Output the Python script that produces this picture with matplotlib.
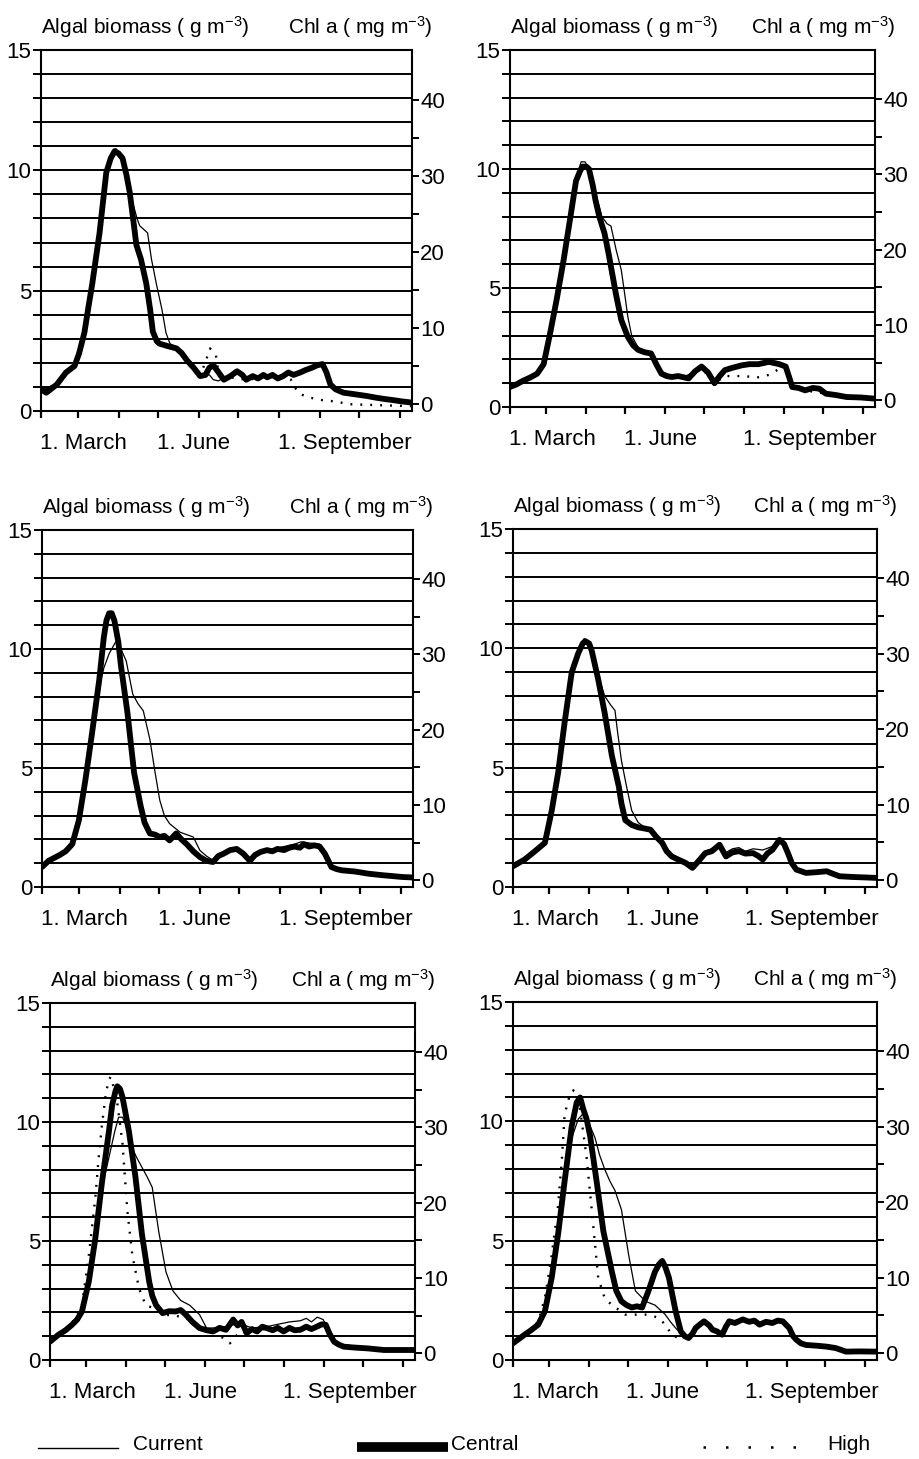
import matplotlib
matplotlib.use("Agg")
import matplotlib.pyplot as plt
from matplotlib.lines import Line2D
from matplotlib.ticker import MultipleLocator

plt.rcParams["font.family"] = ["Liberation Sans", "DejaVu Sans"]
plt.rcParams["mathtext.fontset"] = "custom"
plt.rcParams["mathtext.rm"] = "Liberation Sans"
plt.rcParams["mathtext.it"] = "Liberation Sans"

# x axis: day of year, 1 Feb .. mid Nov
MONTH_STARTS = [32, 60, 91, 121, 152, 182, 213, 244, 274, 305]
LABEL_DAYS = [32, 121, 213]
LABELS = ["1. March", "1. June", "1. September"]

# (day of year, algal biomass g m-3)
P1_CURRENT = [(32, 0.85), (44, 1.1), (51, 1.6), (57.5, 1.9), (65, 3.3), (71, 5.3), (76.5, 7.4), (81.6, 9.9),
              (86, 10.6), (89, 10.9), (93, 10.5), (97, 9.6), (101, 8.8), (105, 8.0), (107, 7.7), (113, 7.4),
              (116, 6.3), (120, 5.2), (124, 4.2), (127, 3.25), (130, 2.8), (135, 2.65), (143, 2.2), (148, 1.8),
              (153, 1.5), (160, 1.5), (163, 1.3), (167, 1.25), (171, 1.4), (181, 1.6), (188, 1.35), (197, 1.4),
              (204, 1.45), (212, 1.4), (220, 1.55), (229, 1.6), (238, 1.75), (246, 1.9), (252, 1.1), (262, 0.75),
              (280, 0.62), (293, 0.5), (314, 0.35)]
P1_CENTRAL = [(32, 0.9), (36, 0.76), (44, 1.1), (51, 1.6), (57.5, 1.87), (61, 2.4), (65, 3.26), (68, 4.3),
              (71, 5.3), (76.5, 7.4), (81.6, 9.9), (85, 10.5), (88, 10.8), (91, 10.7), (94, 10.5), (97, 9.8),
              (99.4, 9.1), (102, 8.0), (104.5, 6.9), (108, 6.3), (112, 5.3), (115, 4.2), (117, 3.3), (120, 2.9),
              (122, 2.8), (128, 2.7), (135, 2.6), (139, 2.4), (143, 2.1), (148, 1.8), (153, 1.45), (157, 1.5),
              (160, 1.8), (163, 1.9), (167, 1.6), (171, 1.3), (176, 1.45), (181, 1.65), (185, 1.5), (188, 1.3),
              (193, 1.45), (197, 1.35), (201, 1.5), (204, 1.4), (208, 1.5), (212, 1.35), (216, 1.45), (220, 1.6),
              (224, 1.5), (229, 1.6), (233, 1.7), (238, 1.8), (242, 1.9), (246, 1.95), (249, 1.6), (252, 1.1),
              (256, 0.9), (262, 0.76), (270, 0.7), (280, 0.62), (287, 0.55), (293, 0.5), (300, 0.45), (306, 0.4),
              (314, 0.35)]
P1_HIGH = [(32, 0.9), (44, 1.1), (51, 1.6), (57.5, 1.87), (65, 3.26), (71, 5.3), (76.5, 7.4), (81.6, 9.9),
           (88, 10.8), (94, 10.5), (99.4, 9.1), (104.5, 6.9), (112, 5.3), (117, 3.3), (122, 2.8), (135, 2.6),
           (143, 2.1), (153, 1.45), (158, 2.2), (160.5, 2.6), (165, 2.3), (168, 1.2), (176, 1.4), (188, 1.3),
           (204, 1.4), (216, 1.45), (222, 1.3), (226, 0.9), (229, 0.7), (237, 0.55), (246, 0.45), (255, 0.4),
           (267, 0.28), (290, 0.24), (314, 0.2)]

P2_CURRENT = [(32, 0.84), (42, 1.1), (53, 1.4), (58, 1.8), (63, 3.1), (68, 4.5), (73.5, 6.2), (79, 8.1),
              (83, 9.6), (87, 10.3), (90, 10.3), (94, 9.9), (98, 9.0), (103, 8.0), (107, 7.7), (110, 7.6),
              (114, 6.6), (118, 5.75), (121, 4.6), (123, 3.8), (126, 3.0), (131, 2.5), (136, 2.3), (141, 2.2),
              (145, 1.9), (149, 1.5), (157, 1.3), (166, 1.25), (175, 1.5), (180, 1.65), (190, 1.05), (198, 1.5),
              (211, 1.7), (224, 1.75), (232, 1.8), (240, 1.75), (245, 1.65), (250, 0.84), (260, 0.7),
              (271, 0.75), (276, 0.56), (292, 0.42), (314, 0.35)]
P2_CENTRAL = [(32, 0.84), (37, 0.95), (42, 1.1), (48, 1.25), (53, 1.4), (58, 1.8), (63, 3.1), (68, 4.5),
              (73.5, 6.2), (79, 8.1), (83, 9.5), (86, 9.9), (88, 10.1), (91, 10.1), (93, 10.0), (96, 9.3),
              (98, 8.7), (101, 8.0), (105, 7.3), (108, 6.5), (111, 5.6), (114, 4.7), (118, 3.65), (123, 2.95),
              (127, 2.6), (131, 2.4), (136, 2.3), (141, 2.25), (145, 1.8), (149, 1.4), (153, 1.3), (157, 1.26),
              (162, 1.3), (166, 1.25), (170, 1.2), (175, 1.5), (180, 1.7), (185, 1.45), (190, 1.0), (194, 1.3),
              (198, 1.55), (204, 1.65), (211, 1.75), (217, 1.8), (224, 1.8), (228, 1.85), (232, 1.9),
              (236, 1.85), (240, 1.8), (245, 1.7), (248, 1.2), (250, 0.84), (255, 0.8), (260, 0.7), (266, 0.8),
              (271, 0.77), (276, 0.56), (284, 0.5), (292, 0.42), (303, 0.4), (314, 0.35)]
P2_HIGH = [(32, 0.84), (42, 1.1), (53, 1.4), (58, 1.8), (63, 3.1), (68, 4.5), (73.5, 6.2), (79, 8.1), (83, 9.5),
           (88, 10.1), (93, 10.0), (98, 8.6), (105, 7.0), (110, 5.6), (114, 4.6), (118, 3.6), (123, 2.9),
           (131, 2.4), (141, 2.2), (149, 1.4), (157, 1.25), (170, 1.2), (180, 1.65), (190, 1.0), (198, 1.3),
           (211, 1.3), (224, 1.25), (232, 1.35), (240, 1.6), (245, 1.65), (250, 0.84), (260, 0.7), (276, 0.56),
           (292, 0.42), (314, 0.35)]

P3_CURRENT = [(32, 0.84), (45, 1.33), (55, 1.8), (60, 2.8), (65, 4.5), (70, 6.4), (75.5, 8.4), (79, 9.2),
              (83, 9.8), (86, 10.1), (88, 10.3), (92, 10.0), (96, 9.5), (101, 8.1), (105, 7.7), (109, 7.4),
              (114, 6.2), (118, 4.8), (121.5, 3.65), (125, 3.0), (129, 2.66), (137, 2.3), (142, 2.2), (147, 2.1),
              (152, 1.54), (157, 1.3), (162, 1.12), (166, 1.3), (170, 1.4), (180, 1.6), (190, 1.15), (198, 1.5),
              (207, 1.6), (216, 1.7), (224, 1.8), (229, 1.9), (235, 1.85), (243, 1.8), (247, 1.4), (252, 0.84),
              (260, 0.7), (280, 0.56), (300, 0.45), (314, 0.4)]
P3_CENTRAL = [(32, 0.84), (37, 1.1), (45, 1.33), (50, 1.5), (55, 1.8), (60, 2.8), (65, 4.5), (70, 6.45),
              (75.5, 8.7), (79, 10.5), (81, 11.2), (83, 11.5), (85, 11.5), (87, 11.2), (90, 10.3), (92, 9.3),
              (97, 7.3), (102, 4.8), (107, 3.4), (110, 2.7), (114, 2.25), (118, 2.2), (121.5, 2.1), (125, 2.15),
              (129, 1.96), (134, 2.25), (138, 2.0), (142, 1.8), (147, 1.5), (152, 1.26), (157, 1.1), (162, 1.05),
              (166, 1.3), (170, 1.4), (175, 1.55), (180, 1.6), (185, 1.4), (190, 1.1), (194, 1.35), (198, 1.47),
              (203, 1.55), (207, 1.5), (211, 1.6), (216, 1.55), (220, 1.65), (224, 1.7), (228, 1.65), (231, 1.8),
              (235, 1.7), (239, 1.75), (243, 1.7), (247, 1.4), (252, 0.84), (256, 0.75), (260, 0.7), (270, 0.65),
              (280, 0.56), (290, 0.5), (300, 0.45), (306, 0.42), (314, 0.4)]
P3_HIGH = [(32, 0.84), (45, 1.33), (55, 1.8), (60, 2.8), (65, 4.5), (70, 6.45), (75.5, 8.7), (79, 10.5),
           (83, 11.5), (87, 11.2), (92, 9.3), (97, 7.3), (102, 4.8), (107, 3.4), (114, 2.25), (121.5, 2.1),
           (129, 1.96), (134, 2.2), (142, 1.8), (152, 1.26), (162, 1.05), (170, 1.4), (180, 1.6), (190, 1.1),
           (198, 1.45), (211, 1.6), (224, 1.65), (231, 1.75), (243, 1.7), (252, 0.84), (260, 0.7), (280, 0.56),
           (300, 0.45), (314, 0.4)]

P4_CURRENT = [(32, 0.87), (41, 1.15), (49, 1.5), (56.7, 1.85), (62, 3.2), (67, 4.8), (72, 6.9), (77.5, 9.0),
              (82.6, 9.9), (87, 10.4), (91, 10.3), (94, 9.8), (98, 8.9), (103, 8.0), (108, 7.6), (111, 7.4),
              (113, 6.5), (116, 5.3), (120, 4.2), (124, 3.2), (129, 2.7), (134, 2.5), (138.5, 2.4), (143, 2.2),
              (147.6, 1.9), (155, 1.35), (160, 1.2), (166, 1.05), (171, 0.9), (176, 1.2), (181, 1.5), (186, 1.6),
              (192, 1.7), (197, 1.45), (202, 1.6), (207, 1.65), (212, 1.5), (218, 1.6), (225.5, 1.55), (233, 1.7),
              (238.5, 1.9), (245, 1.5), (251.5, 0.73), (259, 0.59), (275, 0.66), (285, 0.45), (314, 0.38)]
P4_CENTRAL = [(32, 0.87), (41, 1.15), (49, 1.5), (56.7, 1.85), (62, 3.2), (67, 4.8), (72, 6.9), (77.5, 9.0),
              (82.6, 9.8), (86, 10.2), (88, 10.3), (91, 10.2), (93, 9.9), (98, 8.7), (103, 7.3), (108.6, 5.5),
              (114, 4.2), (116, 3.5), (119, 2.8), (124, 2.6), (129, 2.5), (134, 2.45), (138.5, 2.4), (143, 2.1),
              (147.6, 1.85), (151, 1.5), (155, 1.28), (160, 1.15), (166, 1.0), (171, 0.8), (176, 1.1),
              (181, 1.42), (186, 1.5), (192, 1.77), (197, 1.28), (202, 1.45), (207, 1.5), (212, 1.4), (218, 1.42),
              (222, 1.3), (225.5, 1.15), (229, 1.4), (233, 1.56), (238.5, 1.98), (242, 1.8), (245, 1.42),
              (248, 1.0), (251.5, 0.73), (259, 0.59), (267, 0.62), (275, 0.66), (280, 0.55), (285, 0.45),
              (295, 0.42), (305, 0.4), (314, 0.38)]
P4_HIGH = [(32, 0.87), (41, 1.15), (49, 1.5), (56.7, 1.85), (62, 3.2), (67, 4.8), (72, 6.9), (77.5, 9.0),
           (82.6, 9.8), (88, 10.3), (93, 9.9), (98, 8.7), (103, 7.3), (108.6, 5.5), (114, 4.2), (119, 2.8),
           (129, 2.5), (138.5, 2.4), (147.6, 1.85), (155, 1.28), (166, 1.0), (171, 0.8), (181, 1.4), (192, 1.7),
           (197, 1.3), (207, 1.45), (218, 1.4), (225.5, 1.2), (233, 1.5), (238.5, 1.9), (245, 1.42),
           (251.5, 0.73), (259, 0.59), (275, 0.66), (285, 0.45), (314, 0.38)]

P5_CURRENT = [(32, 0.77), (38.5, 1.06), (49, 1.48), (56.7, 2.04), (62, 3.3), (67, 5.1), (72, 7.2), (77.5, 8.5),
              (82, 9.6), (85, 10.2), (88, 10.2), (90.4, 9.9), (95.6, 8.9), (99, 8.5), (103, 8.1), (107, 7.7),
              (111, 7.25), (116, 5.4), (121.6, 3.7), (127, 2.9), (133, 2.5), (140, 2.3), (147.6, 1.9),
              (153, 1.34), (160, 1.35), (168, 1.4), (173.5, 1.48), (180, 1.5), (188, 1.35), (199.5, 1.4),
              (208, 1.5), (217, 1.6), (225.5, 1.65), (230, 1.75), (234, 1.6), (238.5, 1.8), (243, 1.7),
              (248, 1.2), (251.5, 0.77), (259, 0.56), (277, 0.49), (290, 0.42), (314, 0.42)]
P5_CENTRAL = [(32, 0.77), (38.5, 1.06), (44, 1.25), (49, 1.48), (53, 1.7), (56.7, 2.04), (62, 3.3), (67, 5.1),
              (72, 7.4), (77.5, 9.6), (80, 10.7), (82.6, 11.3), (84, 11.5), (86, 11.4), (88, 11.05), (93, 9.6),
              (98, 7.7), (103, 5.3), (108.6, 3.3), (111, 2.7), (114, 2.3), (119, 1.97), (124, 2.05), (129, 2.04),
              (133, 2.1), (137, 1.9), (142, 1.6), (147.6, 1.34), (153, 1.25), (158, 1.2), (163, 1.35),
              (168, 1.27), (171, 1.5), (173.5, 1.7), (177, 1.45), (180, 1.6), (184, 1.13), (188, 1.3), (192, 1.2),
              (196, 1.4), (199.5, 1.34), (204, 1.25), (208, 1.35), (212.5, 1.2), (217, 1.35), (221, 1.25),
              (225.5, 1.27), (230, 1.4), (234, 1.3), (238.5, 1.41), (242, 1.5), (245, 1.48), (248, 1.1),
              (251.5, 0.77), (255, 0.65), (259, 0.56), (268, 0.52), (277, 0.49), (290, 0.42), (303, 0.42),
              (314, 0.42)]
P5_HIGH = [(32, 0.77), (38.5, 1.06), (49, 1.55), (56.7, 2.3), (62, 4.4), (67, 6.8), (69.6, 8.5), (72, 9.8),
           (74.8, 11.05), (77, 11.7), (78.8, 11.9), (81, 11.5), (84, 10.8), (88, 9.1), (91.7, 6.3), (95.6, 4.4),
           (100.8, 3.0), (106, 2.3), (111, 2.2), (121.6, 1.9), (130, 1.85), (137, 1.76), (147.6, 1.45),
           (158, 1.2), (165, 0.95), (171, 0.7), (178.8, 1.2), (184, 1.13), (192, 1.2), (199.5, 1.34),
           (212.5, 1.2), (225.5, 1.27), (238.5, 1.41), (245, 1.48), (251.5, 0.77), (259, 0.56), (277, 0.49),
           (290, 0.42), (314, 0.42)]

P6_CURRENT = [(32, 0.7), (41, 1.06), (51.5, 1.48), (56.7, 2.04), (62, 3.45), (67, 5.3), (72, 7.5), (77.5, 9.3),
              (82.6, 10.1), (86, 10.3), (88, 10.3), (91, 9.9), (95.6, 9.3), (99, 8.6), (103, 8.0), (107, 7.5),
              (111, 7.1), (116, 6.3), (121.6, 4.4), (126.8, 2.9), (134.6, 2.46), (142, 2.3), (146, 2.1),
              (150, 1.9), (154, 1.6), (158, 1.34), (162, 1.1), (166, 0.92), (170, 1.1), (173.5, 1.34), (180, 1.6),
              (186.5, 1.27), (194, 1.1), (199.5, 1.6), (210, 1.7), (223, 1.5), (233, 1.6), (241, 1.65),
              (246, 1.34), (251.5, 0.85), (259, 0.63), (275, 0.56), (290, 0.35), (314, 0.35)]
P6_CENTRAL = [(32, 0.7), (41, 1.06), (46, 1.25), (51.5, 1.48), (56.7, 2.04), (62, 3.45), (67, 5.3), (72, 7.5),
              (77.5, 9.8), (81.4, 10.8), (84, 11.0), (86.5, 10.5), (89, 10.1), (91.7, 9.4), (97, 7.4), (102, 5.4),
              (108.6, 3.7), (112, 2.9), (116, 2.46), (120, 2.3), (124, 2.2), (128, 2.25), (132, 2.2), (137, 2.9),
              (142, 3.7), (145, 4.0), (147.6, 4.15), (150, 3.9), (152.8, 3.45), (158, 2.04), (162, 1.2),
              (165, 1.0), (168, 0.92), (171, 1.1), (173.5, 1.34), (177, 1.5), (180, 1.62), (184, 1.45),
              (186.5, 1.27), (190, 1.2), (194, 1.06), (197, 1.4), (199.5, 1.62), (204, 1.55), (210, 1.7),
              (215, 1.6), (219, 1.65), (223, 1.48), (228, 1.6), (233, 1.55), (237, 1.65), (241, 1.62),
              (246, 1.34), (249, 1.0), (251.5, 0.85), (255, 0.7), (259, 0.63), (267, 0.6), (275, 0.56),
              (282, 0.5), (290, 0.35), (300, 0.36), (314, 0.35)]
P6_HIGH = [(32, 0.7), (41, 1.06), (51.5, 1.6), (56.7, 2.6), (62, 4.4), (67, 6.5), (70, 8.5), (72, 10.3),
           (76, 11.1), (78.8, 11.3), (81, 11.1), (84, 10.5), (89, 8.5), (93, 6.3), (98, 3.45), (103, 2.6),
           (108.6, 2.3), (114, 2.1), (119, 1.9), (127, 1.9), (134.6, 1.9), (140, 1.85), (145, 1.76),
           (150, 1.48), (155, 1.06), (160, 0.92), (165, 0.95), (170, 1.15), (173.5, 1.34), (180, 1.62),
           (186.5, 1.27), (194, 1.06), (199.5, 1.6), (210, 1.7), (223, 1.48), (233, 1.55), (241, 1.62),
           (246, 1.34), (251.5, 0.85), (259, 0.63), (275, 0.56), (290, 0.35), (314, 0.35)]

PANELS = [
    (P1_CURRENT, P1_CENTRAL, P1_HIGH),
    (P2_CURRENT, P2_CENTRAL, P2_HIGH),
    (P3_CURRENT, P3_CENTRAL, P3_HIGH),
    (P4_CURRENT, P4_CENTRAL, P4_HIGH),
    (P5_CURRENT, P5_CENTRAL, P5_HIGH),
    (P6_CURRENT, P6_CENTRAL, P6_HIGH),
]

W, H = 919, 1459
# axes boxes in pixels: left, right, top, bottom
BOXES = [(41, 412, 50, 411), (510, 875, 50, 407),
         (42, 413, 530, 887), (513, 877, 529, 887),
         (50, 415, 1003, 1360), (513, 877, 1002, 1360)]

FS = 16
fig = plt.figure(figsize=(W / 100, H / 100), dpi=100)

for (l, r, t, b), (cur, cen, hig) in zip(BOXES, PANELS):
    ax = fig.add_axes([l / W, 1 - b / H, (r - l) / W, (b - t) / H])
    ax.set_xlim(32, 314)
    ax.set_ylim(0, 15)

    ax.plot([p[0] for p in cur], [p[1] for p in cur], color="black", lw=0.9, zorder=3)
    ax.plot([p[0] for p in cen], [p[1] for p in cen], color="black", lw=4.2,
            solid_joinstyle="round", solid_capstyle="round", zorder=4)
    ax.plot([p[0] for p in hig], [p[1] for p in hig], color="black", lw=1.7,
            linestyle=(0, (0.8, 3.4)), zorder=5)

    ax.yaxis.set_major_locator(MultipleLocator(5))
    ax.yaxis.set_minor_locator(MultipleLocator(1))
    ax.grid(axis="y", which="both", color="black", lw=1.4)
    ax.set_axisbelow(True)
    ax.tick_params(axis="y", which="both", direction="out", length=6, width=1.4,
                   labelsize=FS, pad=1)

    ax.set_xticks(MONTH_STARTS)
    ax.set_xticklabels([])
    ax.tick_params(axis="x", direction="out", length=5, width=1.6)
    for d, lab in zip(LABEL_DAYS, LABELS):
        ax.annotate(lab, xy=(d, 0), xycoords=("data", "axes fraction"), xytext=(-1, -16),
                    textcoords="offset points", ha="left", va="top", fontsize=FS)
    for s in ax.spines.values():
        s.set_linewidth(1.5)

    ax2 = ax.twinx()
    ax2.set_ylim(-0.9, 46.5)
    ax2.set_yticks([0, 10, 20, 30, 40])
    ax2.set_yticks([5, 15, 25, 35], minor=True)
    ax2.tick_params(axis="y", which="both", direction="out", length=5, width=1.4,
                    labelsize=FS, pad=1)
    for s in ax2.spines.values():
        s.set_visible(False)

    ax.annotate("Algal biomass ( g m$^{-3}$)", xy=(0, 1), xycoords="axes fraction",
                xytext=(0, 12), textcoords="offset points", ha="left", va="baseline",
                fontsize=FS - 1)
    ax.annotate("Chl a ( mg m$^{-3}$)", xy=(1, 1), xycoords="axes fraction",
                xytext=(15, 12), textcoords="offset points", ha="right", va="baseline",
                fontsize=FS - 1)


# legend row at the bottom
def fx(px):
    return px / W


def fy(py):
    return 1 - py / H


fig.add_artist(Line2D([fx(38), fx(118)], [fy(1448), fy(1448)], color="black", lw=1.0))
fig.text(fx(133), fy(1445), "Current", ha="left", va="center", fontsize=FS - 1)
fig.add_artist(Line2D([fx(357), fx(448)], [fy(1447), fy(1447)], color="black", lw=7,
                      solid_capstyle="butt"))
fig.text(fx(451), fy(1445), "Central", ha="left", va="center", fontsize=FS - 1)
fig.add_artist(Line2D([fx(703), fx(805)], [fy(1447), fy(1447)], color="black", lw=1.8,
                      linestyle=(0, (1, 8))))
fig.text(fx(827), fy(1445), "High", ha="left", va="center", fontsize=FS - 1)

fig.savefig("out.png", dpi=100)
